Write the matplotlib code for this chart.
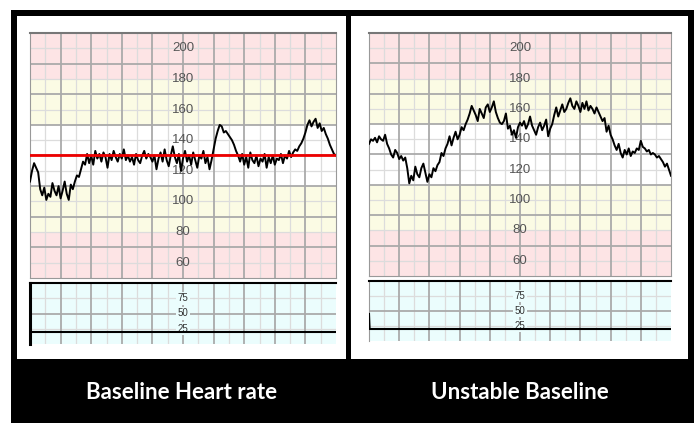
import numpy as np
import matplotlib.pyplot as plt
from matplotlib.patches import Rectangle

# %%
# fetal heart rate traces (bpm), every ~2 px
fhr_baseline = [
    113, 120, 125, 122, 119, 108, 104, 109, 101, 105,
    103, 112, 107, 104, 110, 102, 107, 113, 105, 101,
    111, 108, 113, 117, 116, 121, 126, 124, 131, 125,
    130, 124, 133, 128, 131, 126, 132, 129, 122, 131,
    127, 133, 129, 126, 131, 128, 134, 127, 130, 126,
    129, 124, 131, 127, 125, 130, 133, 128, 131, 129,
    126, 130, 121, 128, 132, 126, 134, 127, 123, 130,
    136, 129, 125, 131, 120, 128, 133, 126, 130, 124,
    132, 127, 122, 130, 128, 133, 125, 129, 121, 127,
    134, 141, 146, 150, 149, 145, 146, 144, 142, 140,
    137, 133, 130, 126, 131, 124, 129, 122, 132, 127,
    125, 130, 123, 128, 126, 131, 122, 129, 125, 130,
    124, 128, 127, 131, 125, 130, 128, 133, 129, 132,
    134, 133, 136, 138, 141, 145, 150, 153, 149, 152,
    154, 148, 151, 146, 148, 144, 141, 137, 134, 131,
    130,
]
fhr_unstable = [
    137, 140, 139, 141, 138, 142, 140, 139, 143, 137,
    134, 130, 128, 133, 131, 127, 129, 126, 128, 121,
    111, 116, 113, 122, 117, 115, 121, 124, 118, 112,
    117, 115, 121, 119, 123, 125, 131, 129, 134, 137,
    142, 136, 141, 145, 140, 143, 148, 146, 150, 153,
    157, 162, 159, 156, 152, 160, 157, 154, 161, 163,
    158, 161, 165, 158, 154, 151, 150, 152, 157, 147,
    149, 143, 146, 141, 148, 151, 149, 152, 147, 150,
    155, 149, 146, 143, 148, 151, 146, 149, 153, 142,
    147, 150, 156, 161, 155, 159, 163, 158, 160, 164,
    167, 162, 160, 165, 162, 158, 164, 160, 165, 159,
    162, 160, 157, 161, 158, 155, 152, 154, 145, 149,
    143, 140, 136, 133, 137, 131, 128, 133, 130, 134,
    129, 132, 131, 134, 133, 139, 135, 134, 132, 133,
    130, 131, 130, 128, 129, 127, 125, 122, 124, 120,
    116,
]
baseline_value = 130

# uterine contraction traces
uc_baseline = [20, 20]
uc_unstable = [45, 20, 20]
uc_unstable_t = [0, 0.02, 10]

fhr_labels = [200, 180, 160, 140, 120, 100, 80, 60]
uc_labels = [75, 50, 25]
captions = ["Baseline Heart rate", "Unstable Baseline"]

# %%
W, H = 697, 423
PINK = "#fde4e5"
YELLOW = "#fbfbe4"
CYAN = "#ebfdfd"
MAJOR = "#aaaaaa"
MINOR = "#dcdcdc"


def box(x0, y0, x1, y1):
    # pixel box (top-left origin) -> figure fraction
    return [x0 / W, 1 - y1 / H, (x1 - x0) / W, (y1 - y0) / H]


def add_rect(fig, x0, y0, x1, y1, color):
    b = box(x0, y0, x1, y1)
    fig.add_artist(Rectangle((b[0], b[1]), b[2], b[3], transform=fig.transFigure,
                             facecolor=color, edgecolor="none", zorder=-10))


def vgrid(ax):
    for x in np.arange(0.5, 10, 1):
        ax.axvline(x, color=MINOR, lw=0.9, zorder=1)
    for x in range(1, 10):
        ax.axvline(x, color=MAJOR, lw=1.3, zorder=2)


def draw_fhr(ax, values, baseline=None):
    ax.set_xlim(0, 10)
    ax.set_ylim(50, 210)
    ax.axhspan(180, 210, color=PINK, lw=0, zorder=0)
    ax.axhspan(150, 180, color=YELLOW, lw=0, zorder=0)
    ax.axhspan(80, 110, color=YELLOW, lw=0, zorder=0)
    ax.axhspan(50, 80, color=PINK, lw=0, zorder=0)
    vgrid(ax)
    for y in range(60, 210, 20):
        ax.axhline(y, color=MINOR, lw=0.9, zorder=1)
    for y in range(70, 200, 20):
        ax.axhline(y, color=MAJOR, lw=1.3, zorder=2)
    for v in fhr_labels:
        ax.text(5, v, str(v), ha="center", va="center", fontsize=9.5,
                color="#555555", family="Liberation Sans", zorder=3)
    t = np.linspace(0, 10, len(values))
    ax.plot(t, values, color="black", lw=1.4, zorder=5)
    if baseline is not None:
        ax.axhline(baseline, color="#ee0000", lw=2, zorder=6)
    ax.set_xticks([])
    ax.set_yticks([])
    for s in ax.spines.values():
        s.set_color("#999999")
    ax.spines["top"].set_color("#777777")
    ax.spines["top"].set_linewidth(1.5)


def draw_uc(ax):
    ax.set_xlim(0, 10)
    ax.set_ylim(0, 100)
    ax.set_facecolor(CYAN)
    vgrid(ax)
    ax.axhline(75, color=MINOR, lw=0.9, zorder=1)
    ax.axhline(25, color=MINOR, lw=0.9, zorder=1)
    ax.axhline(50, color=MAJOR, lw=1.3, zorder=2)
    for v in uc_labels:
        ax.text(5, v, str(v), ha="center", va="center", fontsize=7,
                color="#333333", family="Liberation Sans", zorder=3,
                bbox=dict(facecolor=CYAN, edgecolor="none", pad=1.0))
    ax.set_xticks([])
    ax.set_yticks([])
    ax.spines["bottom"].set_visible(False)
    ax.spines["right"].set_visible(False)
    ax.spines["top"].set_color("black")
    ax.spines["top"].set_linewidth(1.5)
    ax.spines["left"].set_color("#999999")


# %%
fig = plt.figure(figsize=(W / 100, H / 100), dpi=100)
fig.patch.set_facecolor("white")
add_rect(fig, 11, 10, 694, 423, "black")
add_rect(fig, 17, 16, 346, 359, "white")
add_rect(fig, 351, 16, 688, 359, "white")

ax1 = fig.add_axes(box(30, 33, 336, 278))
draw_fhr(ax1, fhr_baseline, baseline_value)
ax2 = fig.add_axes(box(30, 283, 336, 344))
draw_uc(ax2)
ax2.plot([0, 10], uc_baseline, color="black", lw=1.5, zorder=5)
ax2.spines["left"].set_color("black")
ax2.spines["left"].set_linewidth(2.2)

ax3 = fig.add_axes(box(369, 33, 671, 276))
draw_fhr(ax3, fhr_unstable)
ax4 = fig.add_axes(box(369, 281, 671, 341))
draw_uc(ax4)
ax4.plot(uc_unstable_t, uc_unstable, color="black", lw=1.5, zorder=5)

fig.text(182 / W, 1 - 392 / H, captions[0], color="white", fontsize=16,
         fontweight="bold", family=["Lato", "DejaVu Sans"], ha="center", va="center")
fig.text(520 / W, 1 - 392 / H, captions[1], color="white", fontsize=16,
         fontweight="bold", family=["Lato", "DejaVu Sans"], ha="center", va="center")

fig.savefig("out.png", dpi=100)
